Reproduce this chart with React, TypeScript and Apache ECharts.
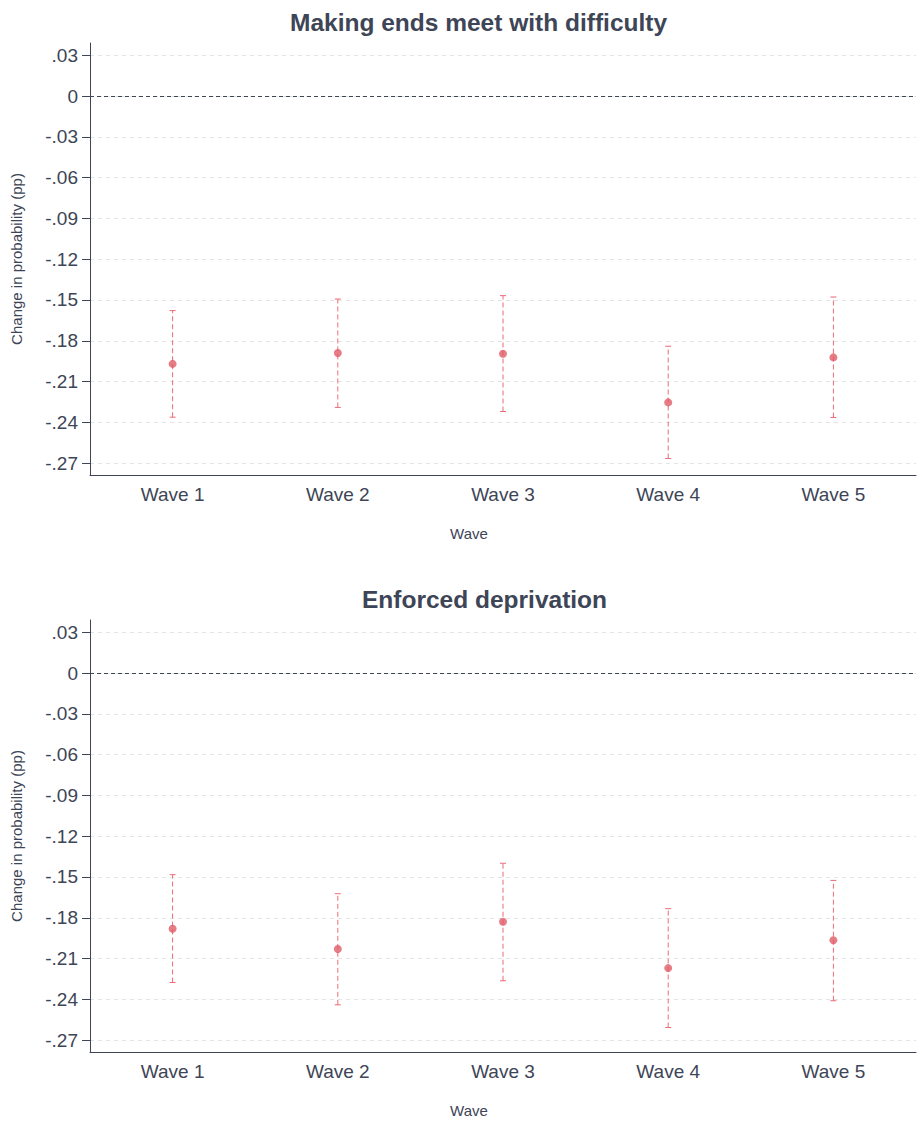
import React, { useEffect, useRef } from "react";
import * as echarts from "echarts";

const waves = ["Wave 1", "Wave 2", "Wave 3", "Wave 4", "Wave 5"];
const yTicks = [-0.27, -0.24, -0.21, -0.18, -0.15, -0.12, -0.09, -0.06, -0.03, 0, 0.03];

const title1 = "Making ends meet with difficulty";
const point1 = [-0.197, -0.189, -0.1895, -0.2253, -0.1922];
const low1 = [-0.2362, -0.229, -0.232, -0.2666, -0.2364];
const high1 = [-0.1578, -0.1493, -0.1468, -0.184, -0.1478];

const title2 = "Enforced deprivation";
const point2 = [-0.1881, -0.203, -0.1829, -0.217, -0.1965];
const low2 = [-0.2276, -0.244, -0.2263, -0.2607, -0.241];
const high2 = [-0.1483, -0.1623, -0.1399, -0.1733, -0.1525];

const yMin = -0.2787;
const yMax = 0.039;

const TEXT = "#3d4556";
const BAR = "#ec6b75";
const DOT = "#e05b67";
const FONT = "'Liberation Sans', Arial, Helvetica, sans-serif";

const fmt = (v: number) => {
  if (Math.abs(v) < 1e-9) return "0";
  return v.toFixed(2).replace("0.", ".");
};

export default function App() {
  const ref = useRef<HTMLDivElement>(null);
  useEffect(() => {
    const chart = echarts.init(ref.current!, null, { renderer: "svg" });
    const panels = [
      { title: title1, pts: point1, lo: low1, hi: high1, top: 43, titleLeft: 285, titleTop: 5 },
      { title: title2, pts: point2, lo: low2, hi: high2, top: 620, titleLeft: 357, titleTop: 582 },
    ];
    const titles: any[] = [];
    const grids: any[] = [];
    const xAxes: any[] = [];
    const yAxes: any[] = [];
    const series: any[] = [];
    panels.forEach((p, i) => {
      titles.push({
        text: p.title,
        left: p.titleLeft,
        top: p.titleTop,
        textStyle: { fontFamily: FONT, fontSize: 24.5, fontWeight: "bold", color: TEXT },
      });
      grids.push({ left: 90, width: 826, top: p.top, height: 432 });
      xAxes.push({
        type: "category",
        gridIndex: i,
        data: waves,
        name: "Wave",
        nameLocation: "middle",
        nameGap: 51,
        nameTextStyle: { fontFamily: FONT, fontSize: 15, color: TEXT, padding: [0, 68, 0, 0] },
        axisLine: { onZero: false, lineStyle: { color: TEXT, width: 1 } },
        axisTick: { alignWithLabel: true, length: 7, lineStyle: { color: TEXT } },
        axisLabel: { fontFamily: FONT, fontSize: 19, color: TEXT, margin: 10 },
        splitLine: { show: false },
      });
      yAxes.push({
        type: "value",
        gridIndex: i,
        min: yMin,
        max: yMax,
        name: "Change in probability (pp)",
        nameLocation: "middle",
        nameGap: 66,
        nameTextStyle: { fontFamily: FONT, fontSize: 15, color: TEXT },
        axisLine: { show: true, onZero: false, lineStyle: { color: TEXT, width: 1 } },
        axisTick: { show: true, length: 8, customValues: yTicks, lineStyle: { color: TEXT } },
        axisLabel: {
          customValues: yTicks,
          fontFamily: FONT,
          fontSize: 19,
          color: TEXT,
          margin: 12,
          formatter: (v: number) => fmt(v),
        },
        splitLine: { show: true, lineStyle: { color: "#e4e4e4", type: [4, 4], width: 1 } },
      });
      series.push({
        type: "custom",
        xAxisIndex: i,
        yAxisIndex: i,
        z: 2,
        data: waves.map((_, k) => [k, p.lo[k], p.hi[k]]),
        renderItem: (params: any, api: any) => {
          const x = api.value(0);
          const a = api.coord([x, api.value(1)]);
          const b = api.coord([x, api.value(2)]);
          const cap = 3;
          const cs = { stroke: BAR, lineWidth: 1 };
          return {
            type: "group",
            children: [
              { type: "line", shape: { x1: a[0], y1: a[1], x2: b[0], y2: b[1] }, style: { ...cs, lineDash: [5, 3] } },
              { type: "line", shape: { x1: a[0] - cap, y1: a[1], x2: a[0] + cap, y2: a[1] }, style: cs },
              { type: "line", shape: { x1: b[0] - cap, y1: b[1], x2: b[0] + cap, y2: b[1] }, style: cs },
            ],
          };
        },
      });
      series.push({
        type: "scatter",
        xAxisIndex: i,
        yAxisIndex: i,
        z: 3,
        symbol: "circle",
        symbolSize: 8,
        itemStyle: { color: DOT },
        data: p.pts,
        markLine: {
          silent: true,
          symbol: "none",
          label: { show: false },
          lineStyle: { color: TEXT, type: [4, 3], width: 1 },
          data: [{ yAxis: 0 }],
        },
      });
    });
    chart.setOption({
      animation: false,
      backgroundColor: "#ffffff",
      title: titles,
      grid: grids,
      xAxis: xAxes,
      yAxis: yAxes,
      series,
    });
    return () => chart.dispose();
  }, []);
  return (
    <div
      ref={ref}
      style={{ position: "fixed", left: 0, top: 0, width: 922, height: 1125, background: "#fff" }}
    />
  );
}
